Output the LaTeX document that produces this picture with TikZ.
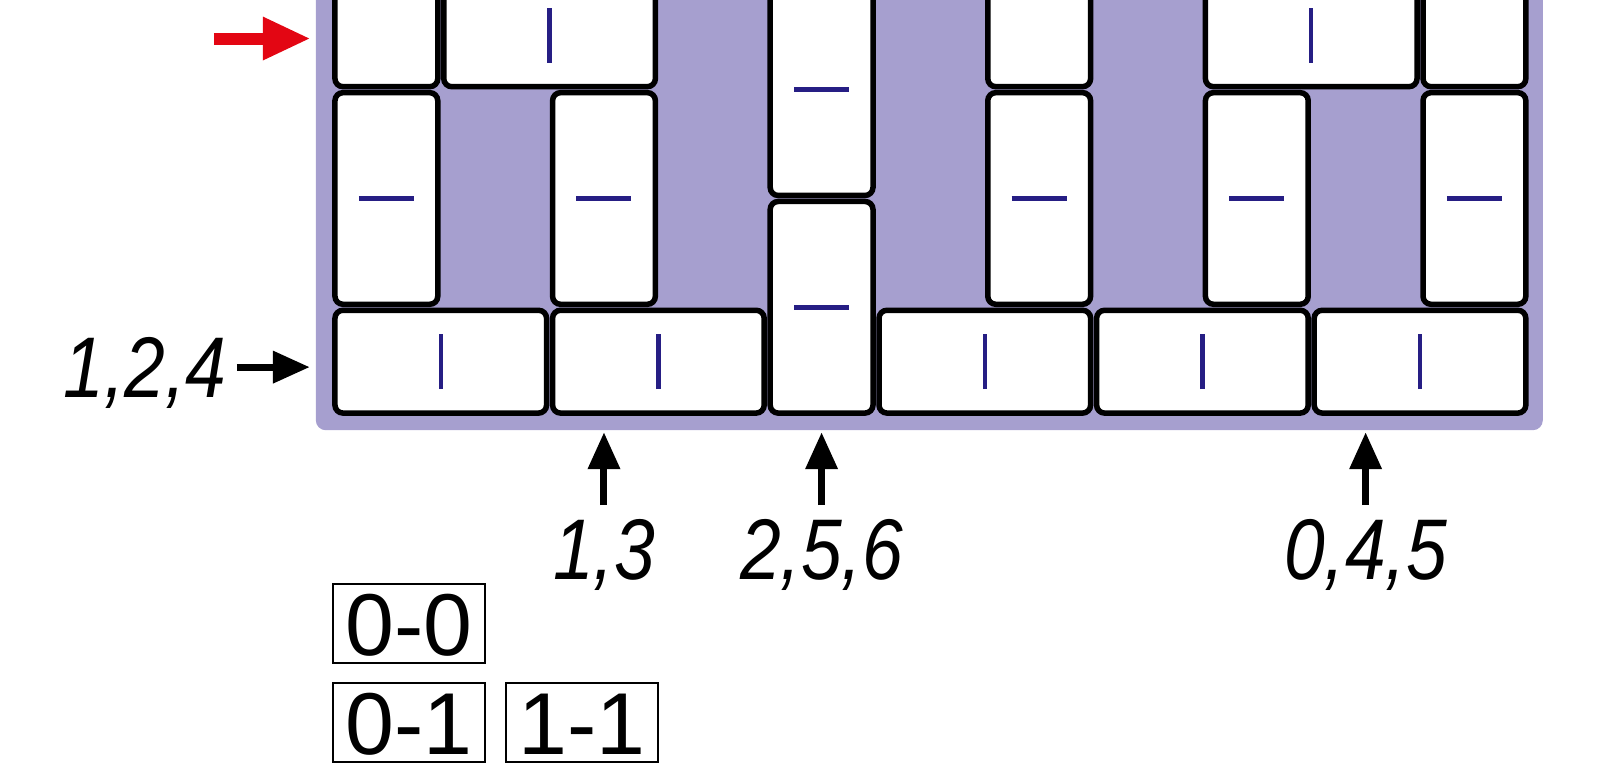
\documentclass[tikz,border=0pt]{standalone}
\usepackage{fontspec}
\setmainfont{Liberation Sans}
\newfontfamily\numfont[FakeStretch=0.85]{Liberation Sans}
\usetikzlibrary{arrows.meta,
                positioning
                }
\definecolor{boardpurple}{RGB}{166,159,207}
\definecolor{tickblue}{RGB}{38,30,132}
\definecolor{arrowred}{RGB}{227,6,19}
\newlength\cellsz
\setlength\cellsz{10.88mm}

\begin{document}
\begin{tikzpicture}[x=\cellsz, y=\cellsz,
          node distance = 1.8mm and 1.9mm,
     board/.style = {fill=boardpurple, rounded corners=1mm, inner sep=0pt, outer sep=0pt,
                     minimum width=11.277\cellsz, minimum height=4.73\cellsz},
    domino/.style = {draw, line width=0.55mm, fill=white, rounded corners=0.8mm,
                     inner sep=0pt, outer sep=0pt},
  tickline/.style = {draw=tickblue, line width=0.45mm},
      hdom/.style = {domino, minimum width=2\cellsz-0.6mm, minimum height=\cellsz-0.6mm,
                     path picture={\draw[tickline] ([yshift=-2.75mm]path picture bounding box.center) -- ++(0,5.5mm);}},
      vdom/.style = {domino, minimum width=\cellsz-0.6mm, minimum height=2\cellsz-0.6mm,
                     path picture={\draw[tickline] ([xshift=-2.75mm]path picture bounding box.center) -- ++(5.5mm,0);}},
    numlab/.style = {font=\numfont\itshape\fontsize{24.5}{26}\selectfont,
                     inner sep=0pt, text height=6.1mm, text depth=0pt},
     score/.style = {draw, line width=0.6pt, font=\fontsize{25}{27}\selectfont, inner sep=0pt,
                     minimum width=15.2mm, minimum height=7.9mm, text height=6.3mm, text depth=0pt},
blackarrow/.style = {line width=0.7mm, -{Triangle[length=3.7mm, width=3.1mm]}},
  redarrow/.style = {draw=arrowred, line width=1.2mm, -{Triangle[length=4.8mm, width=4mm]}}
      ]
    \useasboundingbox (-3.051,-3.235) rectangle (11.654,3.824);
    \node[board] (board) at (5.49,2.235) {};
    \foreach \x/\y [count=\i] in {1/0.5, 3/0.5, 6/0.5, 8/0.5, 10/0.5, 2/3.5, 9/3.5}
        \node[hdom] (h\i) at (\x,\y) {};
    \foreach \x/\y [count=\i] in {0.5/2, 2.5/2, 4.5/1, 4.5/3, 6.5/2, 8.5/2, 10.5/2, 0.5/4, 6.5/4, 10.5/4}
        \node[vdom] (v\i) at (\x,\y) {};

    \coordinate (redtail) at (-1.085,3.47);
    \draw[redarrow, shorten >=0.5mm] (redtail) -- (redtail -| board.west);

    \node[numlab, anchor=east] (lab124) at (-0.965,0.45) {1,2,4};
    \draw[blackarrow, shorten <=1mm, shorten >=0.6mm] (lab124) -- (lab124 -| board.west);

    \node[numlab, anchor=north] (lab13)  at (2.5,-0.938) {1,3};
    \node[numlab, anchor=north] (lab256) at (4.5,-0.938) {2,5,6};
    \node[numlab, anchor=north] (lab045) at (9.5,-0.938) {0,4,5};
    \foreach \n in {lab13, lab256, lab045}
        \draw[blackarrow, shorten <=1.3mm, shorten >=0.2mm] (\n) -- (\n |- board.south);

    \node[score, anchor=north west] (s00) at (0,-1.535) {0-0};
    \node[score, below=of s00] (s01) {0-1};
    \node[score, right=of s01] (s11) {1-1};
\end{tikzpicture}
\end{document}
